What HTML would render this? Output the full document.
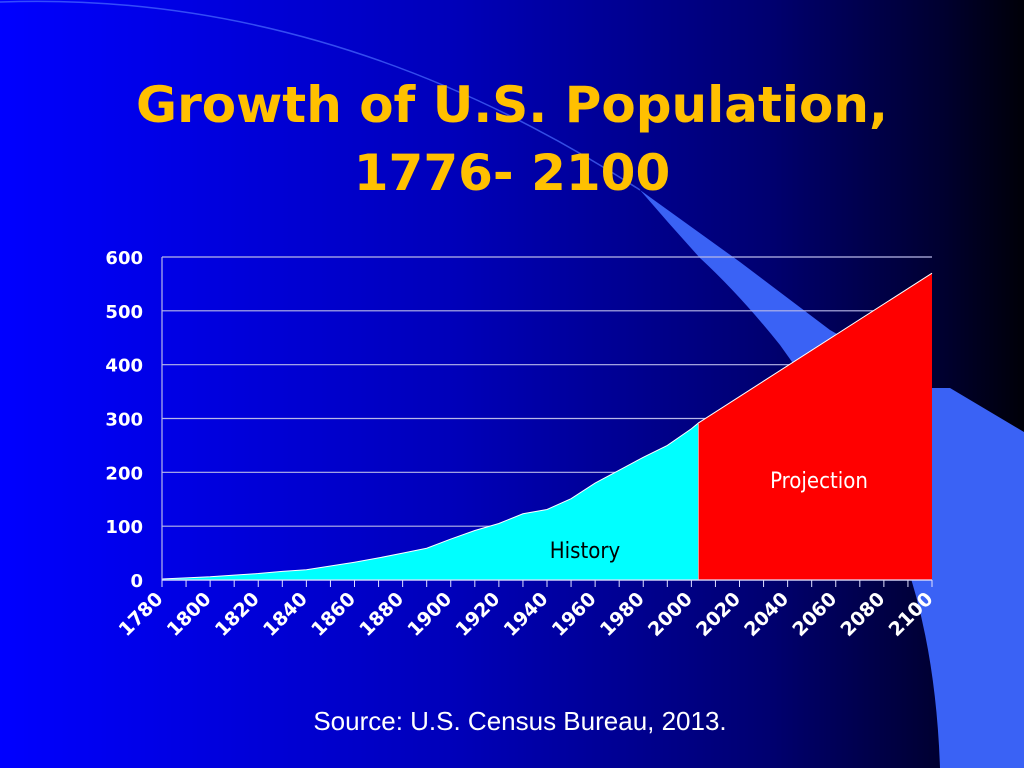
<!DOCTYPE html>
<html><head><meta charset="utf-8"><style>
html,body{margin:0;padding:0;width:1024px;height:768px;overflow:hidden;background:#000}
svg{display:block}
</style></head><body>
<svg id="chart" width="1024" height="768" viewBox="0 0 1024 768" xmlns="http://www.w3.org/2000/svg">
<defs>
<linearGradient id="bg" x1="0" y1="0" x2="1" y2="0">
<stop offset="0" stop-color="#0000ff"/>
<stop offset="0.45" stop-color="#0000b8"/>
<stop offset="0.75" stop-color="#000070"/>
<stop offset="0.92" stop-color="#000030"/>
<stop offset="1" stop-color="#000008"/>
</linearGradient>
</defs>
<rect width="1024" height="768" fill="url(#bg)"/>
<path d="M0,2 Q330,-10 640,190" fill="none" stroke="#4a6cff" stroke-width="1.5" opacity="0.7"/>
<path d="M640,190 L740,262 L830,330 L932,388 L950,388 L1024,432 L1024,768 L940,768 Q936,650 905,560 Q880,500 860,470 Q820,400 780,345 Q740,295 700,258 Q670,225 640,190 Z" fill="#3a62f5"/>
<text x="512" y="122" text-anchor="middle" font-family="DejaVu Sans, Verdana, sans-serif" font-weight="bold" font-size="50" fill="#ffc000">Growth of U.S. Population,</text>
<text x="512" y="190" text-anchor="middle" font-family="DejaVu Sans, Verdana, sans-serif" font-weight="bold" font-size="50" fill="#ffc000">1776- 2100</text>
<g id="plot"></g>
<text x="520" y="730" text-anchor="middle" font-family="Liberation Sans, Arial, sans-serif" font-size="26" fill="#ffffff">Source: U.S. Census Bureau, 2013.</text>
</svg>
<script>
const historyYears=[1780,1790,1800,1810,1820,1830,1840,1850,1860,1870,1880,1890,1900,1910,1920,1930,1940,1950,1960,1970,1980,1990,2000,2003];
const historyValues=[2,4,6,9,12,16,19,26,33,41,50,59,76,92,105,123,131,151,180,204,228,250,281,292];
const projectionYears=[2003,2100];
const projectionValues=[292,570];
const yTicks=[0,100,200,300,400,500,600];
const xLabels=[1780,1800,1820,1840,1860,1880,1900,1920,1940,1960,1980,2000,2020,2040,2060,2080,2100];
const X0=162,X1=932,Y0=580,Y1=257,YEAR0=1780,YEAR1=2100,VMAX=600;
const xs=y=>X0+(y-YEAR0)/(YEAR1-YEAR0)*(X1-X0);
const ys=v=>Y0-v/VMAX*(Y0-Y1);
const NS="http://www.w3.org/2000/svg";
const g=document.getElementById('plot');
function mk(t,a){const e=document.createElementNS(NS,t);for(const k in a)e.setAttribute(k,a[k]);g.appendChild(e);return e;}
yTicks.forEach(v=>{
 const l=mk('line',{x1:X0,x2:X1,y1:ys(v),y2:ys(v),stroke:'#b8b8e8','stroke-width':1.2});
 
 
 const t=mk('text',{x:X0-19,y:ys(v)+7,'text-anchor':'end','font-family':'DejaVu Sans, Verdana, sans-serif','font-weight':'bold','font-size':18,fill:'#fff'});
 t.textContent=v;
 
 
});
let d='M'+xs(historyYears[0])+','+ys(0);
historyYears.forEach((yr,i)=>{d+=' L'+xs(yr)+','+ys(historyValues[i]);});
d+=' L'+xs(historyYears[historyYears.length-1])+','+ys(0)+' Z';
const ha=mk('path',{d:d,fill:'#00ffff',stroke:'#ffffff','stroke-width':1});


let p='M'+xs(projectionYears[0])+','+ys(0);
projectionYears.forEach((yr,i)=>{p+=' L'+xs(yr)+','+ys(projectionValues[i]);});
p+=' L'+xs(projectionYears[projectionYears.length-1])+','+ys(0)+' Z';
const pa=mk('path',{d:p,fill:'#ff0000'});


const pl=mk('polyline',{points:projectionYears.map((yr,i)=>xs(yr)+','+ys(projectionValues[i])).join(' '),fill:'none',stroke:'#ffffff','stroke-width':1});


const ya=mk('line',{x1:X0,x2:X0,y1:Y1,y2:Y0,stroke:'#b8b8e8','stroke-width':1.2});


const xa=mk('line',{x1:X0,x2:X1,y1:Y0,y2:Y0,stroke:'#e0e0ff','stroke-width':1.2});


for(let yr=YEAR0;yr<=YEAR1;yr+=10){
 const tk=mk('line',{x1:xs(yr),x2:xs(yr),y1:Y0,y2:Y0+7,stroke:'#e0e0ff','stroke-width':1});
 
 
}
xLabels.forEach(yr=>{
 const x=xs(yr)+2,y=Y0+20;
 const t=mk('text',{x:x,y:y,'text-anchor':'end','font-family':'DejaVu Sans, Verdana, sans-serif','font-weight':'bold','font-size':19,fill:'#fff',transform:'rotate(-45 '+x+' '+y+')'});
 t.textContent=yr;
 
 
});
const h=mk('text',{x:585,y:558,'text-anchor':'middle','font-family':'DejaVu Sans Condensed, Liberation Sans, sans-serif','font-size':22,fill:'#000'});
h.textContent='History';


const pr=mk('text',{x:819,y:488,'text-anchor':'middle','font-family':'DejaVu Sans Condensed, Liberation Sans, sans-serif','font-size':22,fill:'#fff'});
pr.textContent='Projection';


</script>
</body></html>
